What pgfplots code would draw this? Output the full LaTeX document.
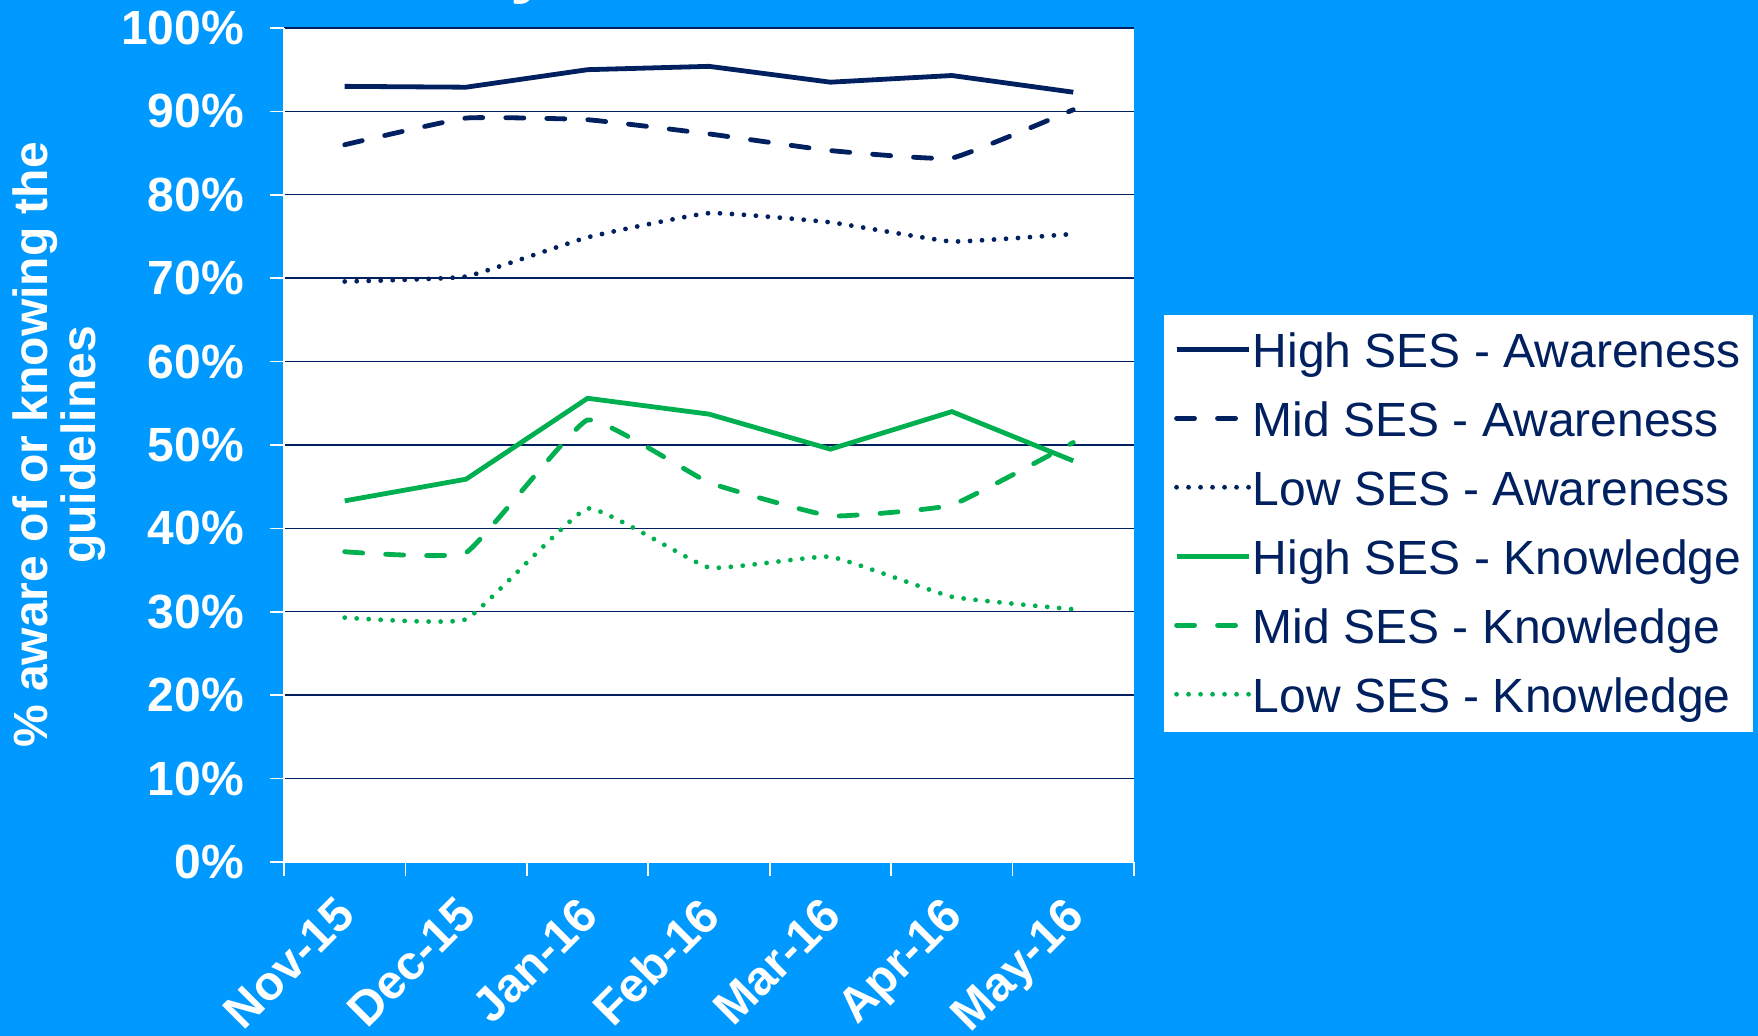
\documentclass[border=0pt]{standalone}
\usepackage{fontspec}
\setmainfont{Liberation Sans}
\usepackage{pgfplots}
\pgfplotsset{compat=1.18}
\definecolor{bgblue}{HTML}{0099FF}
\definecolor{navy}{HTML}{002060}
\definecolor{grn}{HTML}{00B050}
\begin{document}
\begin{tikzpicture}
\useasboundingbox (0,0) rectangle (879pt,518pt);
\fill[bgblue] (0,0) rectangle (879pt,518pt);
\node[white, font=\fontsize{36}{36}\selectfont\bfseries, anchor=base, inner sep=0pt] at (265.5pt,523pt) {y};
\begin{axis}[
  at={(142pt,87pt)}, anchor=south west,
  width=425pt, height=417pt, scale only axis,
  xmin=-0.5, xmax=6.5, ymin=0, ymax=100,
  axis background/.style={fill=white},
  axis x line*=bottom, axis y line*=left,
  axis line style={white, line width=0.8pt},
  xtick={-0.5,0.5,...,6.5}, x tick label as interval,
  xticklabels={Nov-15,Dec-15,Jan-16,Feb-16,Mar-16,Apr-16,May-16},
  ytick={0,10,...,100},
  yticklabels={0\%,10\%,20\%,30\%,40\%,50\%,60\%,70\%,80\%,90\%,100\%},
  ymajorgrids, grid style={navy, line width=0.7pt},
  tick align=outside, major tick length=7pt,
  tick style={white, line width=0.8pt},
  tick label style={white, font=\fontsize{24}{24}\selectfont\bfseries},
  yticklabel style={anchor=east, inner sep=0pt, xshift=-12.8pt},
  xticklabel style={xshift=-5.5pt, yshift=-9pt, rotate=45, anchor=north east, inner sep=0pt},
  ylabel={\% aware of or knowing the\\guidelines},
  ylabel style={at={(axis description cs:-0.265,0.5)}, anchor=center, rotate=0, align=center, white, font=\fontsize{24}{24}\selectfont\bfseries},
  legend style={at={(1.035,0.656)}, anchor=north west, draw=none, fill=white,
    font=\fontsize{24}{24}\selectfont, text=navy, inner xsep=5pt, inner ysep=6pt,
    row sep=10.5pt,
    nodes={text height=20pt, text depth=4pt, inner ysep=0pt, inner xsep=1pt},
    /tikz/every odd column/.append style={column sep=0pt}},
  legend cell align=left,
  legend image code/.code={\draw[#1] (0pt,1pt) -- (36pt,1pt);},
  every axis plot/.append style={line width=2.4pt},
]
\addplot[navy, solid] coordinates {(0,93.0)(1,92.9)(2,95.0)(3,95.4)(4,93.5)(5,94.3)(6,92.3)};
\addlegendentry{High SES - Awareness}
\addplot[navy, smooth, tension=0.2, line cap=round, dash pattern=on 9pt off 11.5pt] coordinates {(0,86.0)(1,89.2)(2,89.0)(3,87.3)(4,85.3)(5,84.4)(6,90.2)};
\addlegendentry{Mid SES - Awareness}
\addplot[navy, smooth, tension=0.2, line cap=round, dash pattern=on 0pt off 6pt] coordinates {(0,69.6)(1,70.2)(2,74.9)(3,77.8)(4,76.7)(5,74.4)(6,75.3)};
\addlegendentry{Low SES - Awareness}
\addplot[grn, solid] coordinates {(0,43.3)(1,45.9)(2,55.6)(3,53.7)(4,49.5)(5,54.0)(6,48.1)};
\addlegendentry{High SES - Knowledge}
\addplot[grn, smooth, tension=0.2, line cap=round, dash pattern=on 9pt off 11.5pt] coordinates {(0,37.2)(1,37.1)(2,53.0)(3,45.5)(4,41.5)(5,42.8)(6,50.3)};
\addlegendentry{Mid SES - Knowledge}
\addplot[grn, smooth, tension=0.2, line cap=round, dash pattern=on 0pt off 6pt] coordinates {(0,29.3)(1,29.1)(2,42.4)(3,35.3)(4,36.6)(5,31.8)(6,30.3)};
\addlegendentry{Low SES - Knowledge}
\end{axis}
\end{tikzpicture}
\end{document}
